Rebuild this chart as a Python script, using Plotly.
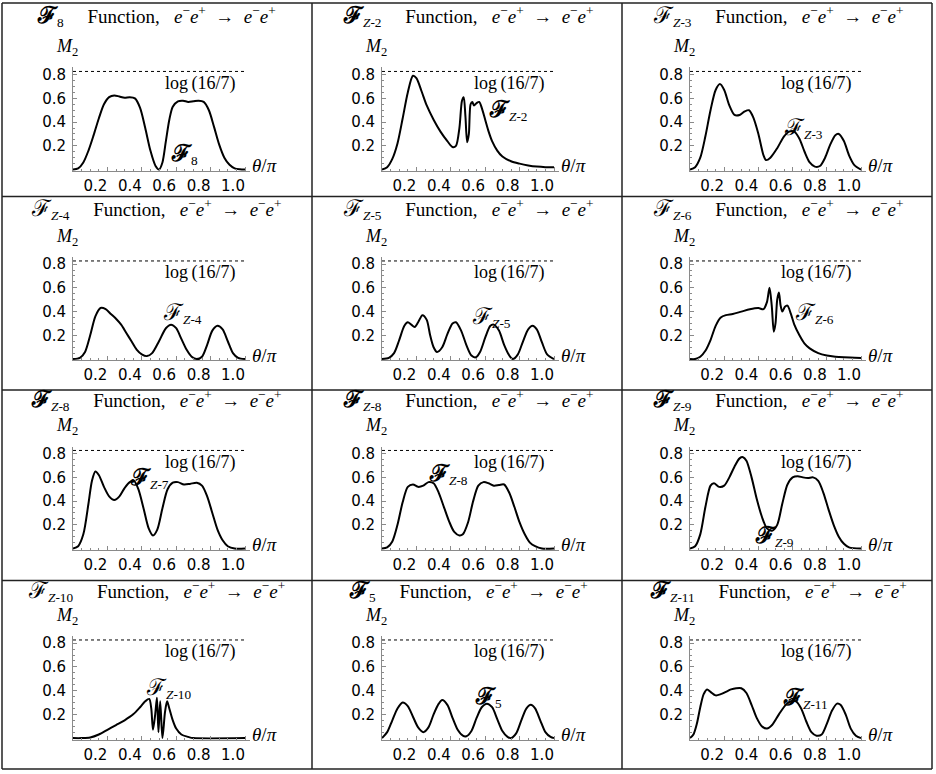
import math
import plotly.graph_objects as go

# ---------------- data ----------------
theta_p1 = [0.00, 0.03, 0.06, 0.09, 0.12, 0.15, 0.18, 0.21, 0.24, 0.27, 0.30, 0.33, 0.36, 0.39, 0.42, 0.45, 0.48, 0.50,
            0.52, 0.54, 0.56, 0.58, 0.61, 0.64, 0.67, 0.70, 0.73, 0.76, 0.79, 0.82, 0.85, 0.88, 0.91, 0.94, 0.97, 1.00]
m2_p1 = [0.00, 0.01, 0.06, 0.16, 0.29, 0.43, 0.55, 0.61, 0.625, 0.615, 0.605, 0.61, 0.60, 0.52, 0.35, 0.16, 0.03, 0.00,
         0.06, 0.24, 0.42, 0.53, 0.575, 0.58, 0.57, 0.575, 0.58, 0.57, 0.50, 0.36, 0.21, 0.10, 0.04, 0.01, 0.002, 0.00]

theta_p2 = [0.00, 0.03, 0.06, 0.09, 0.12, 0.15, 0.18, 0.20, 0.23, 0.26, 0.30, 0.34, 0.38, 0.41, 0.43, 0.45, 0.465,
            0.475, 0.485, 0.495, 0.505, 0.515, 0.525, 0.535, 0.55, 0.565, 0.58, 0.60, 0.62, 0.64, 0.67, 0.70, 0.75,
            0.80, 0.85, 0.90, 0.95, 1.00]
m2_p2 = [0.00, 0.02, 0.09, 0.22, 0.43, 0.65, 0.79, 0.77, 0.66, 0.54, 0.42, 0.32, 0.24, 0.19, 0.20, 0.35, 0.58,
         0.61, 0.45, 0.23, 0.30, 0.55, 0.57, 0.54, 0.56, 0.57, 0.52, 0.42, 0.32, 0.24, 0.16, 0.11, 0.07,
         0.05, 0.035, 0.025, 0.02, 0.02]

theta_p3 = [0.00, 0.03, 0.06, 0.09, 0.12, 0.15, 0.175, 0.20, 0.23, 0.26, 0.29, 0.32, 0.345, 0.37, 0.40, 0.43, 0.445,
            0.47, 0.51, 0.55, 0.58, 0.61, 0.64, 0.67, 0.70, 0.73, 0.76, 0.79, 0.82, 0.85, 0.87, 0.90, 0.93, 0.96, 1.00]
m2_p3 = [0.00, 0.02, 0.10, 0.28, 0.50, 0.67, 0.72, 0.67, 0.54, 0.46, 0.46, 0.49, 0.50, 0.44, 0.30, 0.12, 0.08,
         0.10, 0.18, 0.28, 0.32, 0.32, 0.26, 0.15, 0.06, 0.025, 0.03, 0.10, 0.21, 0.29, 0.30, 0.24, 0.12, 0.04, 0.00]

theta_p4 = [0.00, 0.04, 0.07, 0.10, 0.13, 0.16, 0.19, 0.22, 0.25, 0.28, 0.31, 0.34, 0.37, 0.40, 0.43, 0.46, 0.50,
            0.54, 0.57, 0.60, 0.63, 0.66, 0.69, 0.72, 0.75, 0.78, 0.81, 0.84, 0.87, 0.90, 0.93, 0.96, 1.00]
m2_p4 = [0.00, 0.01, 0.06, 0.20, 0.36, 0.43, 0.42, 0.38, 0.34, 0.29, 0.22, 0.15, 0.08, 0.04, 0.025, 0.05, 0.15,
         0.26, 0.29, 0.26, 0.17, 0.08, 0.02, 0.00, 0.02, 0.12, 0.24, 0.28, 0.25, 0.15, 0.05, 0.01, 0.00]

theta_p5 = [0.00, 0.04, 0.07, 0.10, 0.13, 0.15, 0.17, 0.19, 0.21, 0.235, 0.26, 0.28, 0.30, 0.32, 0.35, 0.38, 0.41,
            0.43, 0.46, 0.49, 0.52, 0.545, 0.57, 0.60, 0.63, 0.65, 0.68, 0.71, 0.74, 0.76, 0.79, 0.82, 0.85, 0.875,
            0.90, 0.93, 0.96, 1.00]
m2_p5 = [0.00, 0.01, 0.05, 0.16, 0.28, 0.31, 0.29, 0.27, 0.31, 0.37, 0.33, 0.20, 0.10, 0.06, 0.10, 0.21, 0.30,
         0.31, 0.24, 0.12, 0.03, 0.015, 0.06, 0.18, 0.28, 0.29, 0.24, 0.12, 0.03, 0.00, 0.04, 0.15, 0.25, 0.28,
         0.25, 0.14, 0.04, 0.00]

theta_p6 = [0.00, 0.03, 0.06, 0.09, 0.12, 0.15, 0.18, 0.21, 0.25, 0.30, 0.35, 0.40, 0.43, 0.45, 0.465, 0.478, 0.49,
            0.50, 0.51, 0.52, 0.53, 0.54, 0.555, 0.57, 0.59, 0.61, 0.64, 0.67, 0.70, 0.75, 0.80, 0.85, 0.90, 1.00]
m2_p6 = [0.00, 0.00, 0.02, 0.07, 0.16, 0.28, 0.35, 0.37, 0.38, 0.40, 0.42, 0.43, 0.42, 0.48, 0.60, 0.45, 0.23,
         0.30, 0.50, 0.56, 0.45, 0.40, 0.44, 0.45, 0.38, 0.29, 0.20, 0.13, 0.09, 0.05, 0.03, 0.02, 0.015, 0.01]

theta_p7 = [0.00, 0.03, 0.06, 0.09, 0.11, 0.13, 0.15, 0.18, 0.21, 0.24, 0.27, 0.30, 0.33, 0.355, 0.38, 0.41, 0.44,
            0.465, 0.49, 0.52, 0.55, 0.58, 0.61, 0.645, 0.68, 0.72, 0.75, 0.78, 0.81, 0.84, 0.87, 0.90, 0.94, 1.00]
m2_p7 = [0.00, 0.02, 0.12, 0.38, 0.57, 0.65, 0.62, 0.52, 0.44, 0.41, 0.44, 0.51, 0.56, 0.57, 0.50, 0.34, 0.17,
         0.11, 0.16, 0.34, 0.50, 0.555, 0.56, 0.54, 0.545, 0.555, 0.53, 0.44, 0.30, 0.16, 0.07, 0.02, 0.00, 0.00]

theta_p8 = [0.00, 0.03, 0.06, 0.09, 0.12, 0.15, 0.18, 0.21, 0.24, 0.27, 0.30, 0.33, 0.36, 0.39, 0.42, 0.45, 0.47,
            0.50, 0.53, 0.56, 0.59, 0.62, 0.65, 0.68, 0.71, 0.74, 0.77, 0.80, 0.83, 0.86, 0.89, 0.93, 1.00]
m2_p8 = [0.00, 0.01, 0.06, 0.20, 0.39, 0.52, 0.54, 0.52, 0.53, 0.56, 0.55, 0.47, 0.35, 0.23, 0.14, 0.11, 0.12,
         0.22, 0.40, 0.53, 0.56, 0.55, 0.53, 0.535, 0.54, 0.47, 0.35, 0.22, 0.12, 0.05, 0.02, 0.00, 0.00]

theta_p9 = [0.00, 0.03, 0.06, 0.09, 0.12, 0.14, 0.17, 0.20, 0.23, 0.26, 0.29, 0.31, 0.33, 0.36, 0.39, 0.42, 0.45,
            0.48, 0.51, 0.54, 0.57, 0.60, 0.63, 0.66, 0.69, 0.72, 0.75, 0.78, 0.81, 0.84, 0.87, 0.90, 0.93, 1.00]
m2_p9 = [0.00, 0.02, 0.12, 0.35, 0.53, 0.55, 0.52, 0.53, 0.60, 0.69, 0.76, 0.77, 0.74, 0.60, 0.42, 0.27, 0.17,
         0.15, 0.20, 0.38, 0.54, 0.60, 0.61, 0.60, 0.595, 0.60, 0.57, 0.47, 0.33, 0.20, 0.10, 0.04, 0.01, 0.00]

theta_p10 = [0.00, 0.05, 0.10, 0.15, 0.20, 0.25, 0.30, 0.35, 0.39, 0.42, 0.443, 0.455, 0.465, 0.478, 0.488, 0.497,
             0.507, 0.52, 0.535, 0.547, 0.56, 0.58, 0.60, 0.63, 0.67, 0.70, 1.00]
m2_p10 = [0.00, 0.00, 0.005, 0.03, 0.07, 0.11, 0.15, 0.20, 0.26, 0.31, 0.33, 0.25, 0.07, 0.20, 0.34, 0.05,
          0.31, 0.00, 0.22, 0.31, 0.25, 0.15, 0.08, 0.03, 0.01, 0.00, 0.00]

theta_p11 = [0.00, 0.03, 0.06, 0.09, 0.12, 0.15, 0.18, 0.21, 0.24, 0.27, 0.30, 0.33, 0.35, 0.38, 0.41, 0.44, 0.47,
             0.49, 0.52, 0.55, 0.58, 0.61, 0.64, 0.67, 0.70, 0.73, 0.75, 0.78, 0.81, 0.84, 0.865, 0.89, 0.92, 0.95,
             0.98, 1.00]
m2_p11 = [0.00, 0.05, 0.15, 0.25, 0.30, 0.27, 0.18, 0.09, 0.05, 0.09, 0.20, 0.29, 0.32, 0.28, 0.17, 0.07, 0.02,
          0.015, 0.06, 0.17, 0.26, 0.29, 0.26, 0.16, 0.06, 0.01, 0.00, 0.04, 0.15, 0.25, 0.28, 0.25, 0.15, 0.05,
          0.01, 0.00]

theta_p12 = [0.00, 0.02, 0.04, 0.06, 0.08, 0.10, 0.12, 0.15, 0.18, 0.21, 0.24, 0.27, 0.30, 0.33, 0.36, 0.39, 0.42,
             0.45, 0.48, 0.52, 0.56, 0.59, 0.62, 0.65, 0.68, 0.71, 0.74, 0.77, 0.80, 0.83, 0.86, 0.88, 0.91, 0.94,
             0.97, 1.00]
m2_p12 = [0.00, 0.03, 0.12, 0.26, 0.37, 0.41, 0.39, 0.36, 0.37, 0.39, 0.41, 0.42, 0.42, 0.38, 0.28, 0.17, 0.10,
          0.08, 0.11, 0.20, 0.28, 0.31, 0.31, 0.25, 0.14, 0.05, 0.02, 0.03, 0.12, 0.23, 0.29, 0.28, 0.20, 0.08,
          0.02, 0.00]

THETAS = [theta_p1, theta_p2, theta_p3, theta_p4, theta_p5, theta_p6,
          theta_p7, theta_p8, theta_p9, theta_p10, theta_p11, theta_p12]
M2S = [m2_p1, m2_p2, m2_p3, m2_p4, m2_p5, m2_p6, m2_p7, m2_p8, m2_p9, m2_p10, m2_p11, m2_p12]

# title subscripts, whether the script F is bold, curve-label subscripts
title_subs = ["8", "Z-2", "Z-3", "Z-4", "Z-5", "Z-6", "Z-8", "Z-8", "Z-9", "Z-10", "5", "Z-11"]
bold_F = [True, True, False, False, False, False, True, True, True, False, True, True]
label_subs = ["8", "Z-2", "Z-3", "Z-4", "Z-5", "Z-6", "Z-7", "Z-8", "Z-9", "Z-10", "5", "Z-11"]
label_x = [0.56, 0.61, 0.54, 0.51, 0.51, 0.60, 0.32, 0.26, 0.37, 0.41, 0.53, 0.53]
label_y = [0.13, 0.50, 0.35, 0.38, 0.35, 0.38, 0.59, 0.62, 0.10, 0.42, 0.34, 0.33]

x_ticks = [0.2, 0.4, 0.6, 0.8, 1.0]
x_tick_text = ["0.2", "0.4", "0.6", "0.8", "1.0"]
y_ticks = [0.2, 0.4, 0.6, 0.8]
y_tick_text = ["0.2", "0.4", "0.6", "0.8"]
LOG_16_7 = math.log(16 / 7)

# ---------------- layout geometry (pixels) ----------------
W, H = 936, 774
COL_X0 = [73, 382, 690]      # pixel of theta = 0
COL_X1 = [245, 554, 861]     # pixel of theta = 1
COL_CENTER = [156, 468, 778]
ROW_Y0 = [168, 358, 548, 738]  # pixel of M2 = 0
ROW_TITLE = [15, 208, 400, 591]
KY = 119.0                     # pixels per unit of M2
X_RANGE = [0, 1.03]
Y_RANGE = [-0.012, 0.86]
V_LINES = [2, 312, 622, 932]
H_LINES = [1, 195, 389, 580, 769]

SERIF = "Liberation Serif"
SANS = "DejaVu Sans"
AXC = "#8a8a8a"


def fx(px):
    return px / W


def fy(py):
    return 1 - py / H


def script_f(bold, size):
    glyph = "<b>ℱ</b>" if bold else "ℱ"
    return f'<span style="font-size:{size}px">{glyph}</span>'


def sub_text(s):
    if s.startswith("Z"):
        return "<i>Z</i>" + s[1:]
    return s


fig = go.Figure()
annotations = []
shapes = []
layout_axes = {}

minor_x = [round(0.05 * i, 2) for i in range(1, 21) if i % 4]
minor_y = [round(0.05 * i, 2) for i in range(1, 17) if i % 4]

for i in range(12):
    r, c = divmod(i, 3)
    n = "" if i == 0 else str(i + 1)
    x0p, x1p = COL_X0[c], COL_X1[c]
    kx = x1p - x0p
    y0p = ROW_Y0[r]
    xdom = [fx(x0p + X_RANGE[0] * kx), fx(x0p + X_RANGE[1] * kx)]
    ydom = [fy(y0p - Y_RANGE[0] * KY), fy(y0p - Y_RANGE[1] * KY)]

    layout_axes["xaxis" + n] = dict(
        domain=xdom, range=X_RANGE, anchor="y" + n, showline=True, linecolor=AXC, linewidth=1,
        ticks="inside", ticklen=4, tickcolor=AXC, tickwidth=1,
        tickmode="array", tickvals=x_ticks, ticktext=x_tick_text,
        tickfont=dict(family=SANS, size=15, color="black"),
        ticklabelshift=-12, ticklabelstandoff=1,
        minor=dict(tickmode="array", tickvals=minor_x, ticks="inside", ticklen=2, tickcolor=AXC, showgrid=False),
        showgrid=False, zeroline=False, fixedrange=True)
    layout_axes["yaxis" + n] = dict(
        domain=ydom, range=Y_RANGE, anchor="x" + n, showline=True, linecolor=AXC, linewidth=1,
        ticks="inside", ticklen=4, tickcolor=AXC, tickwidth=1,
        tickmode="array", tickvals=y_ticks, ticktext=y_tick_text,
        tickfont=dict(family=SANS, size=15, color="black"),
        ticklabelstandoff=3,
        minor=dict(tickmode="array", tickvals=minor_y, ticks="inside", ticklen=2, tickcolor=AXC, showgrid=False),
        showgrid=False, zeroline=False, fixedrange=True)

    xr, yr = "x" + n, "y" + n
    # dashed bound
    fig.add_trace(go.Scatter(x=[0, 1.0], y=[LOG_16_7, LOG_16_7], xaxis=xr, yaxis=yr, mode="lines",
                             line=dict(color="black", width=1, dash="3px,3px"), showlegend=False,
                             hoverinfo="skip"))
    # curve
    fig.add_trace(go.Scatter(x=THETAS[i], y=M2S[i], xaxis=xr, yaxis=yr, mode="lines",
                             line=dict(color="black", width=2, shape="spline", smoothing=0.8),
                             showlegend=False))

    # title
    title = (f"{script_f(bold_F[i], 23)}<sub>{sub_text(title_subs[i])}</sub>\u2003 Function,\u2002 "
             "<i>e</i><sup>−</sup><i>e</i><sup>+</sup>\u2002→\u2002<i>e</i><sup>−</sup><i>e</i><sup>+</sup>")
    annotations.append(dict(text=title, x=fx(COL_CENTER[c]), y=fy(ROW_TITLE[r]), xref="paper", yref="paper",
                            showarrow=False, xanchor="center", yanchor="middle",
                            font=dict(family=SERIF, size=19, color="black")))
    # M2 label
    annotations.append(dict(text="<i>M</i><sub>2</sub>", x=fx(x0p - 6), y=fy(y0p - 122), xref="paper",
                            yref="paper", showarrow=False, xanchor="center", yanchor="middle",
                            font=dict(family=SERIF, size=18, color="black")))
    # theta/pi label
    annotations.append(dict(text="<i>θ</i>/<i>π</i>", x=fx(x1p + 19), y=fy(y0p - 4), xref="paper",
                            yref="paper", showarrow=False, xanchor="center", yanchor="middle",
                            font=dict(family=SERIF, size=19, color="black")))
    # log(16/7) label
    annotations.append(dict(text="log\u2009(16/7)", x=0.96, y=0.727, xref=xr, yref=yr, showarrow=False,
                            xanchor="right", yanchor="middle",
                            font=dict(family=SERIF, size=18, color="black")))
    # curve label
    annotations.append(dict(text=f"{script_f(bold_F[i], 23)}<sub>{sub_text(label_subs[i])}</sub>",
                            x=label_x[i], y=label_y[i], xref=xr, yref=yr, showarrow=False,
                            xanchor="left", yanchor="middle",
                            font=dict(family=SERIF, size=19, color="black")))

for vx in V_LINES:
    shapes.append(dict(type="line", xref="paper", yref="paper", x0=fx(vx), x1=fx(vx),
                       y0=fy(H_LINES[0]), y1=fy(H_LINES[-1]), line=dict(color="#222", width=1.5)))
for hy in H_LINES:
    shapes.append(dict(type="line", xref="paper", yref="paper", x0=fx(V_LINES[0]), x1=fx(V_LINES[-1]),
                       y0=fy(hy), y1=fy(hy), line=dict(color="#222", width=1.5)))

fig.update_layout(width=W, height=H, margin=dict(l=0, r=0, t=0, b=0), paper_bgcolor="white",
                  plot_bgcolor="white", showlegend=False, annotations=annotations, shapes=shapes,
                  **layout_axes)

fig.write_html("out.html")
